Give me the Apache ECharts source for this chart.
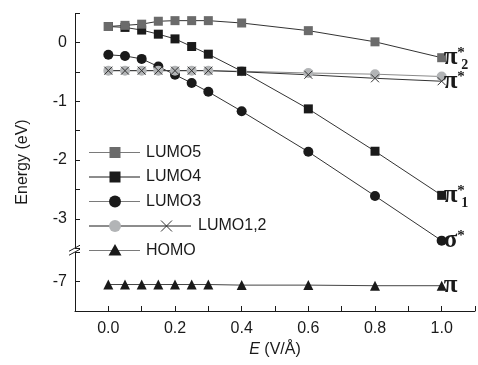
<!DOCTYPE html>
<html>
<head>
<meta charset="utf-8">
<script src="https://cdn.jsdelivr.net/npm/echarts@6/dist/echarts.min.js"></script>
<style>
  html, body { margin: 0; padding: 0; background: #fff; }
  #chart { width: 478px; height: 365px; }
</style>
</head>
<body>
<div id="chart"></div>
<script>
// field strength E (V/Å)
const fieldValues = [0, 0.05, 0.1, 0.15, 0.2, 0.25, 0.3, 0.4, 0.6, 0.8, 1.0];

// orbital energies (eV)
const lumo5 = [0.27, 0.29, 0.31, 0.36, 0.37, 0.37, 0.37, 0.33, 0.20, 0.01, -0.26];
const lumo4 = [0.27, 0.255, 0.21, 0.14, 0.06, -0.07, -0.20, -0.49, -1.13, -1.85, -2.60];
const lumo3 = [-0.21, -0.23, -0.28, -0.41, -0.55, -0.69, -0.84, -1.17, -1.86, -2.61, -3.37];
const lumo1 = [-0.48, -0.48, -0.48, -0.48, -0.48, -0.48, -0.48, -0.49, -0.52, -0.54, -0.58];
const lumo2 = [-0.48, -0.48, -0.48, -0.48, -0.48, -0.48, -0.48, -0.50, -0.55, -0.61, -0.66];
const homo = [-7.05, -7.05, -7.05, -7.05, -7.05, -7.05, -7.05, -7.06, -7.06, -7.07, -7.07];

const yTickLabels = [0, -1, -2, -3, -7];
const xTickLabels = [0, 0.2, 0.4, 0.6, 0.8, 1.0];

const crossPath = 'path://M0,0L10,10M10,0L0,10';
const serif = '"Liberation Serif", "DejaVu Serif", serif';
const sans = '"Liberation Sans", Arial, sans-serif';

const myChart = echarts.init(document.getElementById('chart'), null, { renderer: 'canvas' });

const pair = arr => arr.map((v, i) => [fieldValues[i], v]);

const endRich = {
  g: { fontFamily: serif, fontSize: 25, fontWeight: 'bold', color: '#1a1a1a', lineHeight: 24 },
  s: { fontFamily: serif, fontSize: 15, fontWeight: 'bold', color: '#1a1a1a', verticalAlign: 'top', lineHeight: 24 }
};

const makeSeries = (name, values, symbol, size, color, lineColor, endText, sub) => {
  const last = values.length - 1;
  return {
    name,
    type: 'line',
    data: pair(values),
    symbol,
    symbolSize: size,
    itemStyle: { color, borderColor: color, borderWidth: symbol === crossPath ? 1 : 0 },
    lineStyle: { color: lineColor, width: 1 },
    emphasis: { disabled: true },
    endLabel: endText ? { show: true, formatter: endText, distance: 2, rich: endRich } : { show: false },
    label: sub ? {
      show: true,
      position: 'right',
      offset: [10, 8],
      formatter: p => (p.dataIndex === last ? sub : ''),
      fontFamily: serif,
      fontSize: 14,
      fontWeight: 'bold',
      color: '#1a1a1a'
    } : { show: false }
  };
};

const series = [
  makeSeries('LUMO3', lumo3, 'circle', 10, '#1a1a1a', '#333', '{g|σ}{s|*}'),
  makeSeries('LUMO1', lumo1, 'circle', 10, '#b2b4b6', '#8a8a8a', null),
  makeSeries('LUMO2', lumo2, crossPath, 8, '#333', '#333', '{g|π}{s|*}'),
  makeSeries('LUMO4', lumo4, 'rect', 9, '#1a1a1a', '#333', '{g|π}{s|*}', '1'),
  makeSeries('LUMO5', lumo5, 'rect', 9, '#6b6b6b', '#333', '{g|π}{s|*}', '2'),
  makeSeries('HOMO', homo, 'triangle', 10, '#1a1a1a', '#444', '{g|π}')
];

const option = {
  animation: false,
  backgroundColor: '#fff',
  grid: { left: 75, right: 3, top: 13, bottom: 54 },
  xAxis: {
    type: 'value',
    min: -0.1,
    max: 1.1,
    interval: 0.1,
    name: '{i|E} (V/Å)',
    nameLocation: 'middle',
    nameGap: 29,
    nameTextStyle: {
      fontFamily: sans, fontSize: 16, color: '#1a1a1a',
      rich: { i: { fontFamily: sans, fontSize: 16, fontStyle: 'italic', color: '#1a1a1a' } }
    },
    axisLine: { show: true, onZero: false, lineStyle: { color: '#1a1a1a', width: 1 } },
    axisTick: { show: true, inside: true, length: 5, lineStyle: { color: '#1a1a1a' } },
    axisLabel: {
      margin: 10,
      fontFamily: sans,
      fontSize: 16,
      color: '#1a1a1a',
      formatter: v => (xTickLabels.some(t => Math.abs(t - v) < 1e-6) ? v.toFixed(1) : '')
    },
    splitLine: { show: false }
  },
  yAxis: {
    type: 'value',
    min: -7.5,
    max: 0.5,
    interval: 0.5,
    breaks: [{ start: -6.5, end: -3.5, gap: '1.3%' }],
    breakArea: { show: false },
    name: 'Energy (eV)',
    nameLocation: 'middle',
    nameGap: 44,
    nameTextStyle: { fontFamily: sans, fontSize: 16, color: '#1a1a1a' },
    axisLine: { show: true, onZero: false, lineStyle: { color: '#1a1a1a', width: 1 } },
    axisTick: { show: true, inside: true, length: 5, lineStyle: { color: '#1a1a1a' } },
    axisLabel: {
      margin: 8,
      fontFamily: sans,
      fontSize: 16,
      color: '#1a1a1a',
      formatter: v => (yTickLabels.some(t => Math.abs(t - v) < 1e-6) ? String(Math.round(v)) : '')
    },
    splitLine: { show: false }
  },
  series
};

myChart.setOption(option);

// legend drawn by hand (LUMO1,2 shares one entry)
const legendItems = [
  { text: 'LUMO5', marker: 'rect', color: '#6b6b6b', line: '#7a7a7a' },
  { text: 'LUMO4', marker: 'rect', color: '#1a1a1a', line: '#1a1a1a' },
  { text: 'LUMO3', marker: 'circle', color: '#1a1a1a', line: '#7a7a7a' },
  { text: 'LUMO1,2', marker: 'pair', color: '#b2b4b6', line: '#1a1a1a' },
  { text: 'HOMO', marker: 'triangle', color: '#1a1a1a', line: '#7a7a7a' }
];

const legendGraphics = [];
legendItems.forEach((item, i) => {
  const y = 152.5 + i * 24.5;
  const lineEnd = item.marker === 'pair' ? 191 : 140;
  legendGraphics.push({ type: 'line', shape: { x1: 89, y1: y, x2: lineEnd, y2: y }, style: { stroke: item.line, lineWidth: 1 } });
  if (item.marker === 'rect') {
    legendGraphics.push({ type: 'rect', shape: { x: 109.5, y: y - 5.5, width: 11, height: 11 }, style: { fill: item.color } });
  } else if (item.marker === 'circle' || item.marker === 'pair') {
    legendGraphics.push({ type: 'circle', shape: { cx: 115, cy: y, r: 6 }, style: { fill: item.color } });
  } else {
    legendGraphics.push({ type: 'polygon', shape: { points: [[115, y - 6.5], [121.5, y + 5], [108.5, y + 5]] }, style: { fill: item.color } });
  }
  if (item.marker === 'pair') {
    legendGraphics.push({ type: 'line', shape: { x1: 161, y1: y - 5.5, x2: 172, y2: y + 5.5 }, style: { stroke: '#333', lineWidth: 1 } });
    legendGraphics.push({ type: 'line', shape: { x1: 172, y1: y - 5.5, x2: 161, y2: y + 5.5 }, style: { stroke: '#333', lineWidth: 1 } });
  }
  legendGraphics.push({
    type: 'text',
    x: item.marker === 'pair' ? 198 : 146,
    y,
    style: { text: item.text, fontFamily: sans, fontSize: 16, fill: '#1a1a1a', verticalAlign: 'middle' }
  });
});

// axis break marks "//"
const yTop = myChart.convertToPixel({ yAxisIndex: 0 }, -3.5);
const yBottom = myChart.convertToPixel({ yAxisIndex: 0 }, -6.5);
const yMid = (yTop + yBottom) / 2;
const axisX = myChart.convertToPixel({ xAxisIndex: 0 }, -0.1);
const breakMarks = [
  { type: 'rect', shape: { x: axisX - 1, y: yMid - 2, width: 2, height: 4 }, style: { fill: '#fff' } },
  { type: 'line', shape: { x1: axisX - 6, y1: yMid + 1, x2: axisX + 5, y2: yMid - 5 }, style: { stroke: '#1a1a1a', lineWidth: 1 } },
  { type: 'line', shape: { x1: axisX - 6, y1: yMid + 5, x2: axisX + 5, y2: yMid - 1 }, style: { stroke: '#1a1a1a', lineWidth: 1 } }
];

myChart.setOption({ graphic: legendGraphics.concat(breakMarks) });
</script>
</body>
</html>
